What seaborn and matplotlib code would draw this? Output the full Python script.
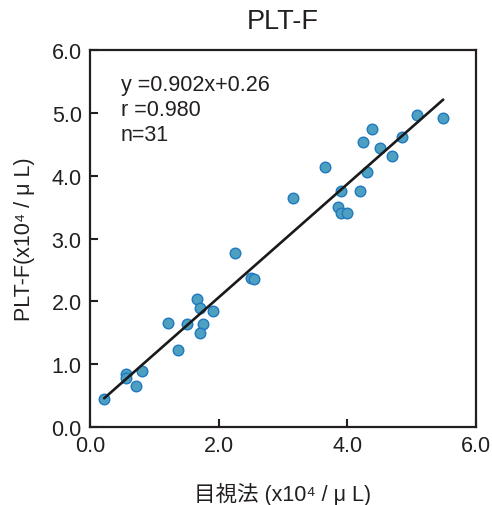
import numpy as np
import pandas as pd
import matplotlib
matplotlib.use("Agg")
import matplotlib.pyplot as plt
import seaborn as sns

# Visual count (目視法) vs PLT-F, x10^4/uL
visual = [0.22, 0.56, 0.56, 0.72, 0.81, 1.21, 1.36, 1.51, 1.66, 1.71,
          1.91, 1.76, 1.71, 2.26, 2.50, 2.55, 3.16, 3.90, 4.20, 3.85,
          3.90, 4.00, 3.65, 4.30, 4.25, 4.39, 4.50, 4.70, 4.85, 5.09, 5.49]
pltf = [0.45, 0.84, 0.78, 0.65, 0.89, 1.66, 1.23, 1.64, 2.04, 1.90,
        1.84, 1.64, 1.50, 2.77, 2.37, 2.35, 3.64, 3.75, 3.75, 3.50,
        3.40, 3.40, 4.14, 4.06, 4.53, 4.74, 4.44, 4.32, 4.62, 4.96, 4.92]

slope = 0.902
intercept = 0.26
r_value = "0.980"
n_value = len(visual)

ticks = [0.0, 1.0, 2.0, 3.0, 4.0, 5.0, 6.0]
xticks = [0.0, 2.0, 4.0, 6.0]

sns.set_style("white")
plt.rcParams["font.family"] = ["Liberation Sans", "Noto Sans CJK JP", "DejaVu Sans"]
ink = "#231f20"
fs = 15.5

fig = plt.figure(figsize=(4.92, 5.06), dpi=100)
ax = fig.add_axes([0.183, 0.154, 0.7845, 0.745])

df = pd.DataFrame({"visual": visual, "pltf": pltf})
sns.scatterplot(data=df, x="visual", y="pltf", ax=ax, s=58,
                color="#4ea0c0", edgecolor="#1f78c1", linewidth=1.0, zorder=3)

xs = np.array([min(visual), max(visual)])
ax.plot(xs, slope * xs + intercept, color="#1a1a1a", lw=1.9, zorder=4)

ax.set_xlim(0, 6)
ax.set_ylim(0, 6)
ax.set_xticks(xticks)
ax.set_yticks(ticks)
ax.set_xticklabels([f"{t:.1f}" for t in xticks])
ax.set_yticklabels([f"{t:.1f}" for t in ticks])
ax.tick_params(direction="in", length=6, width=1.5, color=ink,
               labelsize=fs, labelcolor=ink, pad=6,
               top=False, right=False, left=True, bottom=True)
for sp in ax.spines.values():
    sp.set_visible(True)
    sp.set_linewidth(1.6)
    sp.set_color(ink)

ax.set_xlabel("目視法 (x10⁴ / μ L)", fontsize=fs, color=ink, labelpad=18)
ax.set_ylabel("PLT-F(x10⁴ / μ L)", fontsize=fs, color=ink, labelpad=12)
ax.set_title("PLT-F", fontsize=19.5, color=ink, pad=16)

stats = [f"y =0.902x+0.26", f"r ={r_value}", f"n={n_value}"]
for i, line in enumerate(stats):
    ax.text(0.48, 5.46 - i * 0.4, line, fontsize=fs, color=ink,
            va="center", ha="left")

fig.savefig("out.png", dpi=100)
